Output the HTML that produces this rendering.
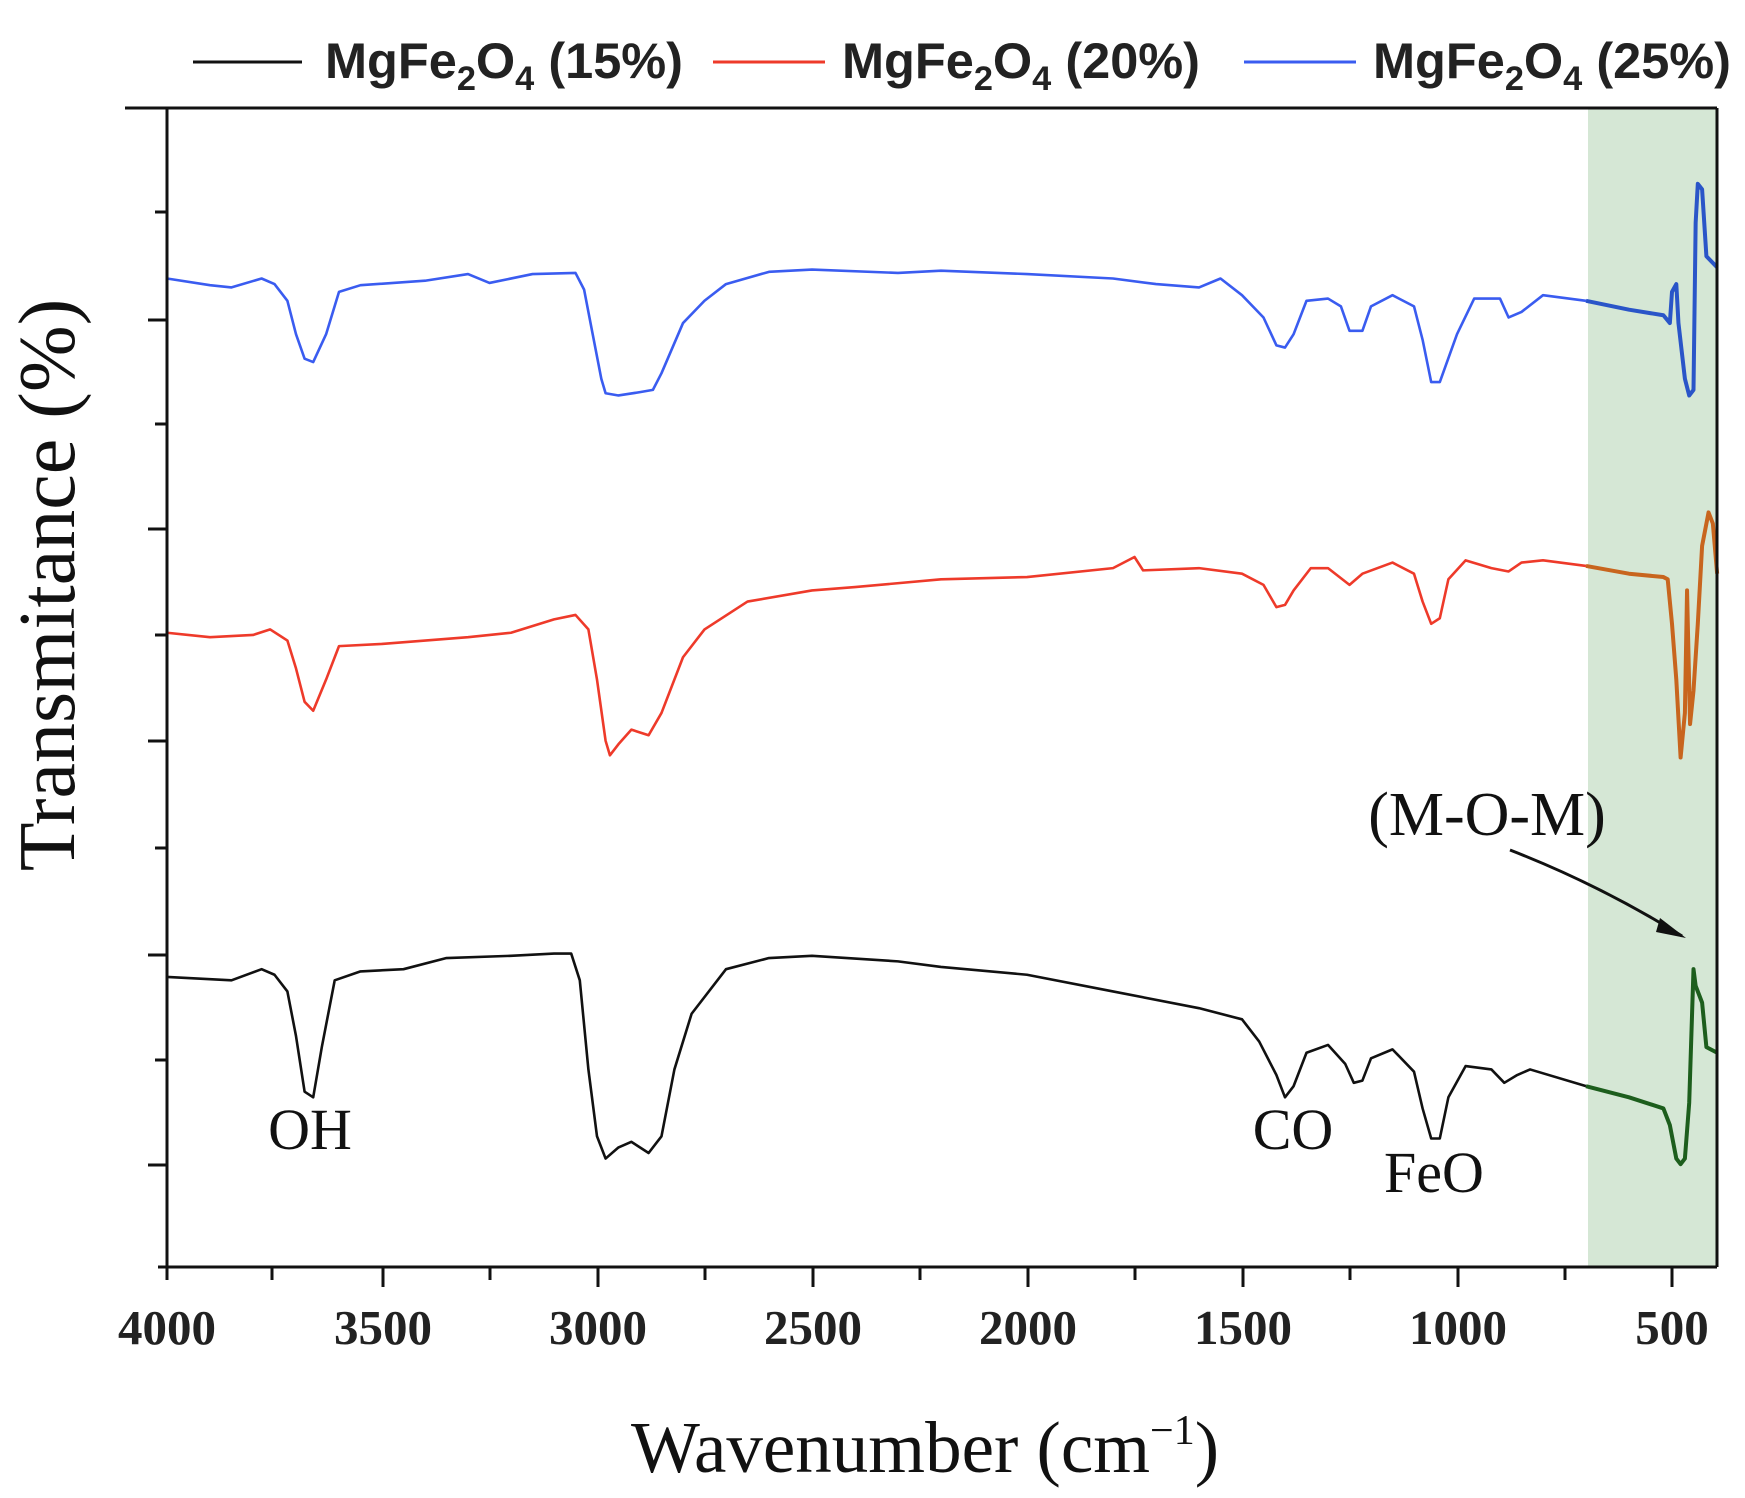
<!DOCTYPE html>
<html><head><meta charset="utf-8"><style>body{margin:0;background:#fff}svg{display:block}</style></head>
<body>
<svg width="1745" height="1498" viewBox="0 0 1745 1498" xmlns="http://www.w3.org/2000/svg">
<rect x="1588" y="108" width="129" height="1159" fill="#d5e7d5"/>
<g fill="none" stroke-width="2.6" stroke-linejoin="round" transform="matrix(-0.43 0 0 1.114 1887 0)">
<polyline vector-effect="non-scaling-stroke" stroke="#3a5cf0" points="4000,250 3900,256 3850,258 3780,250 3750,255 3720,270 3700,300 3680,322 3660,325 3630,300 3600,262 3550,256 3400,252 3300,246 3250,254 3150,246 3050,245 3030,260 3010,300 2990,340 2980,353 2950,355 2900,352 2870,350 2850,335 2800,290 2750,270 2700,255 2600,244 2500,242 2300,245 2200,243 2000,246 1800,250 1700,255 1600,258 1550,250 1500,265 1450,285 1420,310 1400,312 1380,300 1350,270 1300,268 1270,275 1250,297 1220,297 1200,275 1150,265 1100,275 1080,305 1060,343 1040,343 1000,300 960,268 900,268 880,285 850,280 800,265 700,270"/>
<polyline vector-effect="non-scaling-stroke" stroke="#2a55c8" stroke-width="4" points="700,270 600,278 520,283 505,290 500,262 490,255 485,290 470,340 460,355 450,350 445,200 440,165 430,170 420,230 395,240"/>
<polyline vector-effect="non-scaling-stroke" stroke="#ee3a2a" points="4000,568 3900,572 3800,570 3760,565 3720,575 3700,600 3680,630 3660,638 3630,610 3600,580 3500,578 3300,572 3200,568 3100,556 3050,552 3020,565 3000,610 2980,665 2970,678 2950,668 2920,655 2880,660 2850,640 2800,590 2750,565 2650,540 2500,530 2400,527 2200,520 2000,518 1800,510 1750,500 1730,512 1600,510 1500,515 1450,525 1420,545 1400,543 1380,530 1340,510 1300,510 1250,525 1220,515 1150,505 1100,515 1080,540 1060,560 1040,555 1020,520 980,503 920,510 880,513 850,505 800,503 700,508"/>
<polyline vector-effect="non-scaling-stroke" stroke="#c8651e" stroke-width="4" points="700,508 600,515 520,518 510,520 500,560 490,610 480,680 470,640 465,530 458,650 450,620 440,560 430,490 415,460 405,470 395,515"/>
<polyline vector-effect="non-scaling-stroke" stroke="#111" points="4000,877 3850,880 3780,870 3750,875 3720,890 3700,930 3680,980 3660,985 3640,940 3610,880 3550,872 3450,870 3350,860 3200,858 3100,856 3060,856 3040,880 3020,960 3000,1020 2980,1040 2950,1030 2920,1025 2880,1035 2850,1020 2820,960 2780,910 2700,870 2600,860 2500,858 2300,863 2200,868 2000,875 1800,890 1600,905 1500,915 1460,935 1420,965 1400,985 1380,975 1350,945 1300,938 1260,955 1240,972 1220,970 1200,950 1150,942 1100,962 1080,995 1060,1022 1040,1022 1020,985 980,957 920,960 890,972 860,965 830,960 700,975"/>
<polyline vector-effect="non-scaling-stroke" stroke="#1d5e1d" stroke-width="4" points="700,975 600,985 520,995 505,1010 490,1040 480,1045 470,1040 460,990 450,870 445,885 430,900 420,940 395,945"/>
</g>
<g stroke="#111" stroke-width="3" fill="none">
<line x1="125" y1="108" x2="1717" y2="108"/>
<line x1="167" y1="108" x2="167" y2="1280"/>
<line x1="158" y1="1267" x2="1717" y2="1267"/>
<line x1="1717" y1="108" x2="1717" y2="1267"/>
<line x1="272" y1="1267" x2="272" y2="1280"/><line x1="383" y1="1267" x2="383" y2="1287"/>
<line x1="490" y1="1267" x2="490" y2="1280"/><line x1="598" y1="1267" x2="598" y2="1287"/>
<line x1="705" y1="1267" x2="705" y2="1280"/><line x1="813" y1="1267" x2="813" y2="1287"/>
<line x1="920" y1="1267" x2="920" y2="1280"/><line x1="1028" y1="1267" x2="1028" y2="1287"/>
<line x1="1135" y1="1267" x2="1135" y2="1280"/><line x1="1243" y1="1267" x2="1243" y2="1287"/>
<line x1="1350" y1="1267" x2="1350" y2="1280"/><line x1="1458" y1="1267" x2="1458" y2="1287"/>
<line x1="1565" y1="1267" x2="1565" y2="1280"/><line x1="1672" y1="1267" x2="1672" y2="1287"/>
<line x1="155" y1="212" x2="167" y2="212"/><line x1="148" y1="320" x2="167" y2="320"/>
<line x1="155" y1="424" x2="167" y2="424"/><line x1="148" y1="529" x2="167" y2="529"/>
<line x1="155" y1="635" x2="167" y2="635"/><line x1="148" y1="741" x2="167" y2="741"/>
<line x1="155" y1="848" x2="167" y2="848"/><line x1="148" y1="955" x2="167" y2="955"/>
<line x1="155" y1="1060" x2="167" y2="1060"/><line x1="148" y1="1165" x2="167" y2="1165"/>
</g>
<g font-family="Liberation Serif, serif" font-weight="bold" font-size="49" fill="#222" text-anchor="middle">
<text x="167" y="1344">4000</text><text x="383" y="1344">3500</text><text x="598" y="1344">3000</text>
<text x="813" y="1344">2500</text><text x="1028" y="1344">2000</text><text x="1243" y="1344">1500</text>
<text x="1458" y="1344">1000</text><text x="1672" y="1344">500</text>
</g>
<text x="925" y="1472" font-family="Liberation Serif, serif" font-size="73" text-anchor="middle" fill="#111">Wavenumber (cm<tspan dy="-28" font-size="42">−1</tspan><tspan dy="28">)</tspan></text>
<text transform="translate(74,585) rotate(-90)" font-family="Liberation Serif, serif" font-size="80" text-anchor="middle" fill="#111">Transmitance (%)</text>
<g font-family="Liberation Serif, serif" font-size="58" fill="#111" text-anchor="middle">
<text x="310" y="1149">OH</text><text x="1293" y="1149">CO</text><text x="1434" y="1192">FeO</text>
<text x="1487" y="835" font-size="62">(M-O-M)</text>
</g>
<path d="M1510,850 Q1600,885 1682,936" stroke="#111" stroke-width="3" fill="none"/>
<polygon points="1686,938 1660,918 1656,932" fill="#111"/>
<g stroke-width="3">
<line x1="193" y1="62" x2="302" y2="62" stroke="#111"/>
<line x1="713" y1="62" x2="825" y2="62" stroke="#ee3a2a"/>
<line x1="1244" y1="62" x2="1356" y2="62" stroke="#3a5cf0"/>
</g>
<g font-family="Liberation Sans, sans-serif" font-size="50" font-weight="bold" fill="#222">
<text x="325" y="78" textLength="358" lengthAdjust="spacingAndGlyphs">MgFe<tspan dy="12" font-size="34">2</tspan><tspan dy="-12">O</tspan><tspan dy="12" font-size="34">4</tspan><tspan dy="-12"> (15%)</tspan></text>
<text x="842" y="78" textLength="358" lengthAdjust="spacingAndGlyphs">MgFe<tspan dy="12" font-size="34">2</tspan><tspan dy="-12">O</tspan><tspan dy="12" font-size="34">4</tspan><tspan dy="-12"> (20%)</tspan></text>
<text x="1373" y="78" textLength="358" lengthAdjust="spacingAndGlyphs">MgFe<tspan dy="12" font-size="34">2</tspan><tspan dy="-12">O</tspan><tspan dy="12" font-size="34">4</tspan><tspan dy="-12"> (25%)</tspan></text>
</g>
</svg>
</body></html>
